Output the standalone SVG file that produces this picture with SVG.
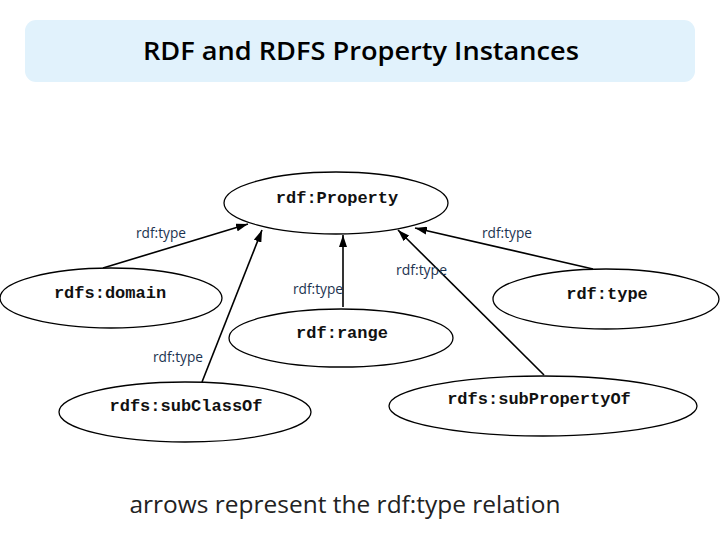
<svg xmlns="http://www.w3.org/2000/svg" width="720" height="540" viewBox="0 0 720 540">
<defs>
<marker id="ah" viewBox="0 0 12 8" refX="12" refY="4" markerWidth="12" markerHeight="8" markerUnits="userSpaceOnUse" orient="auto">
<path d="M0,0 L12,4 L0,8 Z" fill="#000"/>
</marker>
<style>
.node ellipse{fill:#fff;stroke:#000;stroke-width:1.3}
.node text{font-family:"Liberation Mono","Courier New",monospace;font-weight:bold;font-size:17px;text-anchor:middle;fill:#111}
.edges line{stroke:#000;stroke-width:1.6;marker-end:url(#ah)}
.lbl{font-family:"Open Sans","Noto Sans",sans-serif;font-size:14px;fill:#1c3350}
</style>
</defs>
<rect width="720" height="540" fill="#fff"/>
<g id="title">
<rect x="25" y="20" width="670" height="62" rx="11" fill="#e1f2fc"/>
<text x="361" y="60" font-family="'Open Sans','Noto Sans',sans-serif" font-weight="600" font-size="25" text-anchor="middle" fill="#000" textLength="436" lengthAdjust="spacingAndGlyphs">RDF and RDFS Property Instances</text>
</g>
<g class="edges" id="connectors">
<line x1="103" y1="268" x2="248" y2="224"/>
<line x1="202" y1="382" x2="262" y2="230"/>
<line x1="343" y1="307" x2="343" y2="235"/>
<line x1="544" y1="375" x2="398" y2="230"/>
<line x1="593" y1="269" x2="415" y2="228"/>
</g>
<g id="edge-labels">
<text class="lbl" x="136" y="238" textLength="50" lengthAdjust="spacingAndGlyphs">rdf:type</text>
<text class="lbl" x="482" y="238" textLength="50" lengthAdjust="spacingAndGlyphs">rdf:type</text>
<text class="lbl" x="293" y="294" textLength="50" lengthAdjust="spacingAndGlyphs">rdf:type</text>
<text class="lbl" x="396" y="275" textLength="51" lengthAdjust="spacingAndGlyphs">rdf:type</text>
<text class="lbl" x="153" y="362" textLength="50" lengthAdjust="spacingAndGlyphs">rdf:type</text>
</g>
<g class="node" id="n-property">
<ellipse cx="336" cy="203" rx="112" ry="31"/>
<text x="337" y="203">rdf:Property</text>
</g>
<g class="node" id="n-domain">
<ellipse cx="111" cy="298" rx="111" ry="30"/>
<text x="110" y="298">rdfs:domain</text>
</g>
<g class="node" id="n-range">
<ellipse cx="341" cy="338" rx="112" ry="29"/>
<text x="342" y="338">rdf:range</text>
</g>
<g class="node" id="n-type">
<ellipse cx="606" cy="299" rx="113" ry="30"/>
<text x="607" y="299">rdf:type</text>
</g>
<g class="node" id="n-subclassof">
<ellipse cx="185" cy="412" rx="126" ry="30"/>
<text x="186" y="411">rdfs:subClassOf</text>
</g>
<g class="node" id="n-subpropertyof">
<ellipse cx="543" cy="406" rx="154" ry="30"/>
<text x="539" y="404">rdfs:subPropertyOf</text>
</g>
<text x="345" y="513" font-family="'Open Sans','Noto Sans',sans-serif" font-size="24" text-anchor="middle" fill="#222" textLength="431" lengthAdjust="spacingAndGlyphs">arrows represent the rdf:type relation</text>
</svg>
